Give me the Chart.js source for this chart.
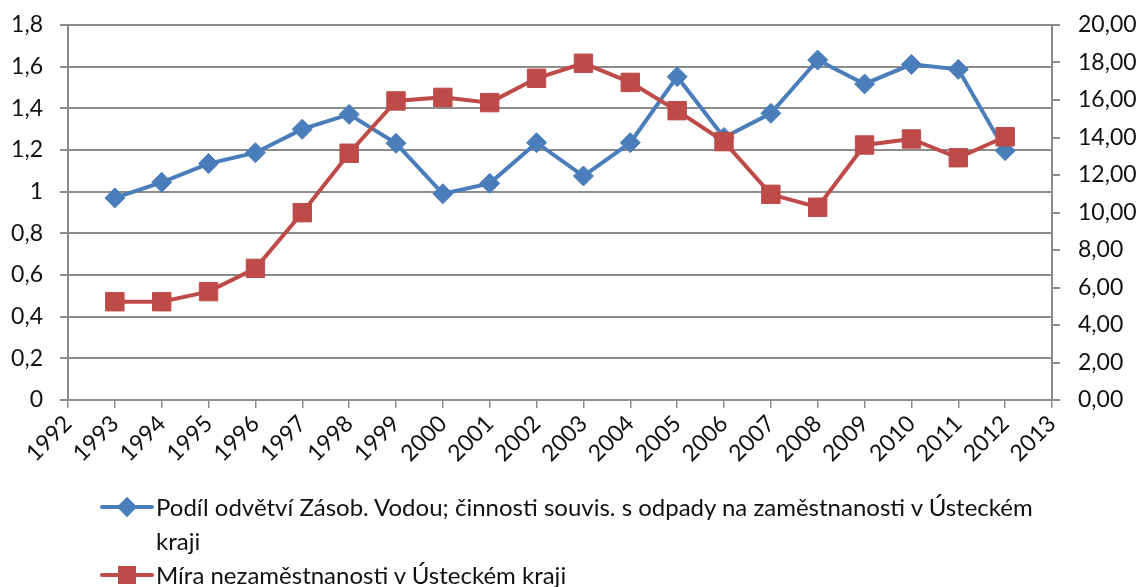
<!DOCTYPE html>
<html>
<head>
<meta charset="utf-8">
<script src="https://cdn.jsdelivr.net/npm/chart.js@4/dist/chart.umd.min.js"></script>
<style>
    html, body { margin: 0; padding: 0; background: #fff; }
    #wrap { position: relative; width: 1140px; height: 587px; }
    #legend { position: absolute; left: 100px; top: 490px; font-family: Lato, 'Noto Sans', sans-serif; font-size: 24px; color: #111; }
    .item { display: flex; align-items: flex-start; line-height: 34px; }
    .sample { position: relative; width: 56px; height: 34px; flex: none; }
    .sample .ln { position: absolute; left: 0; width: 54px; top: 15px; height: 4px; border-radius: 2px; }
    .sample .mk { position: absolute; left: 18px; top: 8px; width: 18px; height: 18px; }
    .txt { width: 900px; }
</style>
</head>
<body>
<div id="wrap">
    <canvas id="chart" width="1140" height="587"></canvas>
    <div id="legend"></div>
</div>
<script>
// data
const years = ['1992', '1993', '1994', '1995', '1996', '1997', '1998', '1999', '2000', '2001', '2002',
    '2003', '2004', '2005', '2006', '2007', '2008', '2009', '2010', '2011', '2012', '2013'];
const podil = [null, 0.97, 1.045, 1.135, 1.187, 1.30, 1.371, 1.232, 0.99, 1.04, 1.235,
    1.075, 1.235, 1.552, 1.26, 1.376, 1.632, 1.517, 1.611, 1.587, 1.197, null];
const nezam = [null, 5.24, 5.24, 5.78, 7.02, 9.99, 13.16, 15.95, 16.14, 15.86, 17.16,
    17.96, 16.94, 15.43, 13.78, 10.97, 10.28, 13.6, 13.92, 12.92, 14.04, null];
const labelPodil = 'Podíl odvětví Zásob. Vodou; činnosti souvis. s odpady na zaměstnanosti v Ústeckém kraji';
const labelNezam = 'Míra nezaměstnanosti v Ústeckém kraji';

const BLUE = '#4a7ebb';
const RED = '#be4b48';
const GRID = '#8c8c8c';
const FONT = { family: 'Lato, "Noto Sans", sans-serif', size: 23 };

document.addEventListener('DOMContentLoaded', () => {
    const chart = initChart();
    buildLegend(chart);
});

// fixed axis sizes so the plot area sits where it does in the picture
function fitY(width) {
    return (s) => {
        s.width = width;
        s.paddingTop = 0;
        s.paddingBottom = 0;
    };
}

function initChart() {
    const ctx = document.getElementById('chart').getContext('2d');
    return new Chart(ctx, {
        type: 'line',
        data: {
            labels: years,
            datasets: [{
                label: labelPodil,
                data: podil,
                yAxisID: 'y',
                borderColor: BLUE,
                backgroundColor: BLUE,
                borderWidth: 4,
                pointStyle: 'rectRot',
                pointRadius: 10,
                pointBorderWidth: 1,
                order: 1,
                marker: 'diamond'
            }, {
                label: labelNezam,
                data: nezam,
                yAxisID: 'y1',
                borderColor: RED,
                backgroundColor: RED,
                borderWidth: 4,
                pointStyle: 'rect',
                pointRadius: 13,
                pointBorderWidth: 1,
                order: 0,
                marker: 'square'
            }]
        },
        options: {
            responsive: false,
            animation: false,
            layout: { padding: { top: 25, left: 0, right: 0, bottom: 0 } },
            plugins: {
                legend: { display: false },
                tooltip: { enabled: false }
            },
            scales: {
                x: {
                    offset: false,
                    grid: { drawOnChartArea: false, drawTicks: true, tickLength: 8, color: GRID, lineWidth: 1.5 },
                    border: { color: GRID, width: 2 },
                    ticks: { color: '#111', font: FONT, minRotation: 45, maxRotation: 45, autoSkip: false, padding: 2 },
                    afterFit: (s) => {
                        s.height = 187;
                        s.paddingLeft = 0;
                        s.paddingRight = 0;
                    }
                },
                y: {
                    position: 'left',
                    min: 0,
                    max: 1.8,
                    ticks: {
                        stepSize: 0.2,
                        color: '#111',
                        font: FONT,
                        padding: 17,
                        callback: (v) => String(Number(v.toFixed(1))).replace('.', ',')
                    },
                    grid: { color: GRID, lineWidth: 2, tickLength: 8 },
                    border: { color: GRID, width: 2 },
                    afterFit: fitY(68)
                },
                y1: {
                    position: 'right',
                    min: 0,
                    max: 20,
                    ticks: {
                        stepSize: 2,
                        color: '#111',
                        font: FONT,
                        padding: 18,
                        callback: (v) => v.toFixed(2).replace('.', ',')
                    },
                    grid: { drawOnChartArea: false, color: GRID, lineWidth: 2, tickLength: 8 },
                    border: { color: GRID, width: 2 },
                    afterFit: fitY(88)
                }
            }
        }
    });
}

function buildLegend(chart) {
    const box = document.getElementById('legend');
    chart.data.datasets.forEach((ds) => {
        const item = document.createElement('div');
        item.className = 'item';
        const sample = document.createElement('div');
        sample.className = 'sample';
        const ln = document.createElement('div');
        ln.className = 'ln';
        ln.style.background = ds.borderColor;
        const mk = document.createElement('div');
        mk.className = 'mk';
        mk.style.background = ds.borderColor;
        if (ds.marker === 'diamond') {
            mk.style.transform = 'rotate(45deg) scale(0.8)';
        }
        sample.appendChild(ln);
        sample.appendChild(mk);
        const txt = document.createElement('div');
        txt.className = 'txt';
        txt.textContent = ds.label;
        item.appendChild(sample);
        item.appendChild(txt);
        box.appendChild(item);
    });
}
</script>
</body>
</html>
